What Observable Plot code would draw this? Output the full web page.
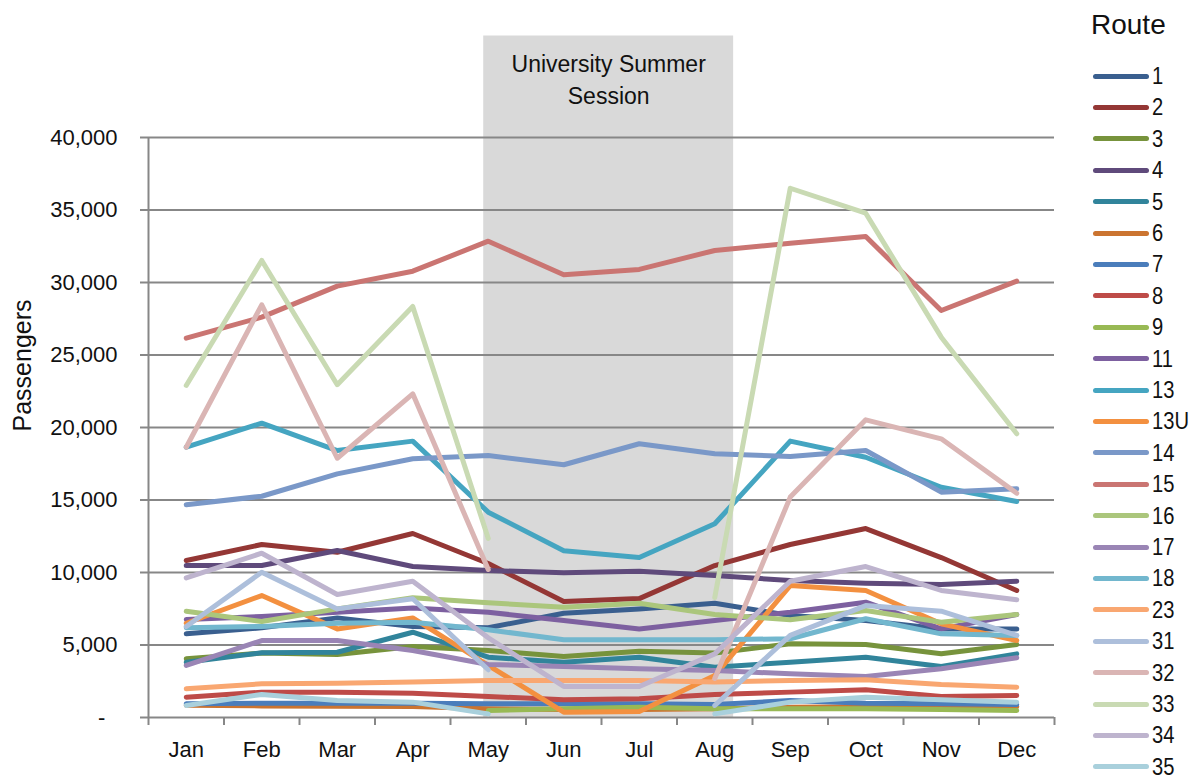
<!DOCTYPE html>
<html>
<head>
<meta charset="utf-8">
<script src="https://cdn.jsdelivr.net/npm/d3@7"></script>
<script src="https://cdn.jsdelivr.net/npm/@observablehq/plot@0.6"></script>
<style>
  html, body { margin: 0; padding: 0; background: #fff; }
  #wrap { position: relative; width: 1194px; height: 776px; overflow: hidden; }
  #chart { position: absolute; left: 0; top: 0; }
  #legend { position: absolute; left: 1091px; top: 0; width: 103px; height: 776px; }
  .ltitle { position: absolute; left: 0; top: 11px; font: 28px/28px "Liberation Sans", Arial, sans-serif; color: #111; }
  .lentry { position: absolute; left: 2px; height: 32px; display: flex; align-items: center; }
  .lswatch { width: 56px; height: 5px; border-radius: 3px; margin-right: 3px; }
  .llabel { font: 24px/32px "Liberation Sans", Arial, sans-serif; color: #111; display: inline-block; transform: scaleX(0.84); transform-origin: left center; }
</style>
</head>
<body>
<div id="wrap">
  <div id="chart"></div>
  <div id="legend"></div>
</div>
<script>
// ---- data ----
const months = ["Jan", "Feb", "Mar", "Apr", "May", "Jun", "Jul", "Aug", "Sep", "Oct", "Nov", "Dec"];
const routeNames = ["1", "2", "3", "4", "5", "6", "7", "8", "9", "11", "13", "13U", "14", "15", "16", "17", "18", "23", "31", "32", "33", "34", "35"];

const route1   = [5770, 6190, 6870, 6280, 6190, 7190, 7490, 7880, 7030, 6690, 6110, 6110];
const route2   = [10830, 11930, 11400, 12690, 10620, 8000, 8200, 10480, 11930, 13030, 11030, 8760];
const route3   = [4050, 4440, 4350, 4900, 4620, 4210, 4570, 4440, 5080, 5030, 4390, 5030];
const route4   = [10480, 10480, 11520, 10410, 10140, 9980, 10090, 9790, 9450, 9260, 9170, 9400];
const route5   = [3810, 4460, 4500, 5880, 4160, 3810, 4160, 3470, 3810, 4160, 3520, 4390];
const route6   = [850, 800, 780, 750, 600, 550, 550, 600, 700, 750, 700, 750];
const route7   = [940, 990, 990, 990, 940, 940, 940, 900, 1170, 990, 940, 900];
const route8   = [1400, 1750, 1750, 1680, 1450, 1220, 1290, 1590, 1750, 1910, 1450, 1520];
const route9   = [null, null, null, null, 480, 600, 710, 600, 600, 600, 550, 480];
const route11  = [6760, 6970, 7260, 7560, 7260, 6690, 6110, 6690, 7260, 7950, 6110, 7100];
const route13  = [18640, 20300, 18410, 19060, 14160, 11500, 11030, 13360, 19060, 17950, 15880, 14900];
const route13U = [6500, 8410, 6110, 6870, 3600, 370, 410, 2900, 9100, 8760, 6460, 5310];
const route14  = [14670, 15260, 16800, 17840, 18070, 17430, 18880, 18190, 18000, 18410, 15540, 15770];
const route15  = [26160, 27610, 29750, 30780, 32850, 30530, 30900, 32210, 32710, 33170, 28070, 30090];
const route16  = [7330, 6620, 7490, 8260, 7910, 7610, 7880, 7100, 6740, 7380, 6570, 7100];
const route17  = [3590, 5310, 5310, 4620, 3660, 3520, 3360, 3240, 3010, 2830, 3360, 4120];
const route18  = [6190, 6280, 6500, 6570, 6050, 5360, 5360, 5360, 5430, 6810, 5770, 5660];
const route23  = [1980, 2320, 2370, 2440, 2550, 2550, 2550, 2440, 2550, 2600, 2280, 2090];
const route31  = [6280, 10020, 7490, 8190, 3290, null, null, 830, 5660, 7720, 7330, 5660];
const route32  = [18640, 28460, 17880, 22320, 10210, null, null, 2690, 15200, 20530, 19220, 15470];
const route33  = [22900, 31520, 22950, 28350, 12350, null, null, 8280, 36500, 34780, 26230, 19570];
const route34  = [9630, 11330, 8480, 9400, 5500, 2140, 2140, 4390, 9400, 10410, 8760, 8120];
const route35  = [830, 1590, 1170, 1060, 250, null, null, 250, 1060, 1400, 1220, 1060];

const seriesValues = [route1, route2, route3, route4, route5, route6, route7, route8, route9, route11,
  route13, route13U, route14, route15, route16, route17, route18, route23, route31, route32, route33, route34, route35];

const yTicks = [0, 5000, 10000, 15000, 20000, 25000, 30000, 35000, 40000];
const summerLabel = "University Summer\nSession";
const summerFirst = "May";
const summerLast = "Aug";

// ---- styles ----
const routeColors = ["#3A5F8F", "#943735", "#77933C", "#5F4A7B", "#31849B", "#CB7430", "#4A7DBB", "#BE4B48",
  "#98B954", "#7D60A0", "#45A5C1", "#F39040", "#7A98C8", "#CA7572", "#ABC67C", "#9A85B5", "#72B7CE",
  "#F9A771", "#ADBFDB", "#DAB5B4", "#C9DAB3", "#BEB4CE", "#A9D0DC"];
const regular = '"Liberation Sans", Arial, sans-serif';
const gridColor = "#878787";

const rows = routeNames.flatMap((r, k) => seriesValues[k].map((v, i) => ({route: r, month: i, value: v})));
const shade = [{x1: months.indexOf(summerFirst) - 0.06, x2: months.indexOf(summerLast) + 0.25}];
const boundaries = d3.range(13).map(i => i - 0.5);

const chart = Plot.plot({
  width: 1080,
  height: 776,
  marginLeft: 148,
  marginRight: 26,
  marginTop: 137,
  marginBottom: 59,
  style: {fontFamily: regular, fontSize: "22px", background: "transparent", overflow: "visible"},
  x: {domain: [-0.5, 11.5]},
  y: {domain: [0, 40000]},
  color: {domain: routeNames, range: routeColors},
  marks: [
    Plot.rect(shade, {x1: "x1", x2: "x2", y1: 0, y2: 47000, fill: "#D9D9D9"}),
    Plot.ruleY(yTicks, {stroke: gridColor, strokeWidth: 2}),
    Plot.ruleX([-0.5], {stroke: gridColor, strokeWidth: 2}),
    Plot.axisY({ticks: yTicks, tickSize: 8, tickPadding: 23, stroke: gridColor, strokeWidth: 2, fill: "#111",
      fontSize: 22, fontFamily: regular, label: null,
      tickFormat: d => d === 0 ? "-\u2007" : d3.format(",")(d)}),
    Plot.axisX(boundaries, {tickSize: 8, stroke: gridColor, strokeWidth: 2, tickFormat: () => "", label: null}),
    Plot.axisX(d3.range(12), {tickSize: 0, tickPadding: 24, fill: "#111", fontSize: 22, fontFamily: regular,
      label: null, tickFormat: i => months[i]}),
    Plot.line(rows, {x: "month", y: "value", z: "route", stroke: "route", strokeWidth: 5,
      strokeLinejoin: "round", strokeLinecap: "round"}),
    Plot.text([summerLabel], {x: (shade[0].x1 + shade[0].x2) / 2, y: 44100, text: d => d, fontSize: 23,
      lineHeight: 1.39, fontFamily: regular, fill: "#111"}),
    Plot.text(["Passengers"], {frameAnchor: "left", dx: -126, dy: 4, rotate: -90, text: d => d,
      fontSize: 25, fontFamily: regular, fill: "#111"})
  ]
});
document.getElementById("chart").appendChild(chart);

// ---- legend ----
const legend = document.getElementById("legend");
const t = document.createElement("div");
t.className = "ltitle";
t.textContent = "Route";
legend.appendChild(t);
routeNames.forEach((r, i) => {
  const e = document.createElement("div");
  e.className = "lentry";
  e.style.top = (76 + i * 31.4 - 16) + "px";
  const s = document.createElement("div");
  s.className = "lswatch";
  s.style.background = routeColors[i];
  const l = document.createElement("span");
  l.className = "llabel";
  l.textContent = r;
  e.appendChild(s);
  e.appendChild(l);
  legend.appendChild(e);
});
</script>
</body>
</html>
